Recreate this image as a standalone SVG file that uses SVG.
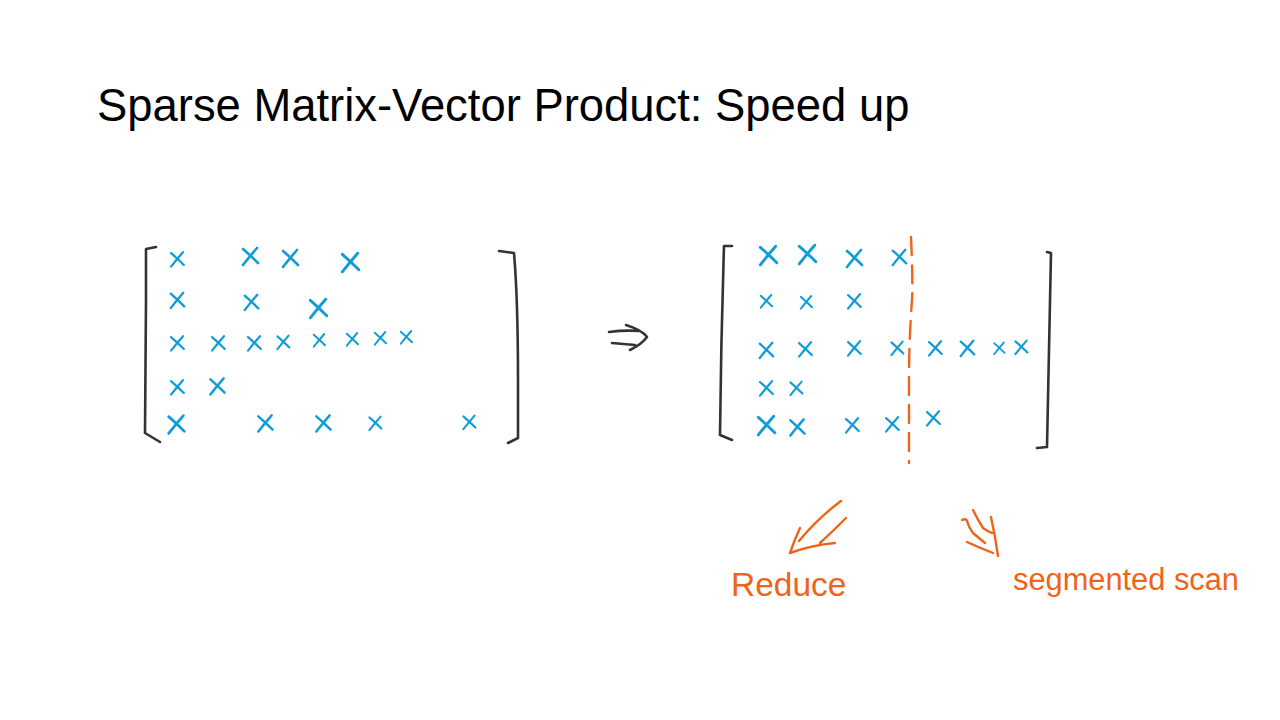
<svg xmlns="http://www.w3.org/2000/svg" xmlns:xlink="http://www.w3.org/1999/xlink" width="1280" height="720" viewBox="0 0 1280 720">
<style>
.title{font-family:"Liberation Sans",Arial,sans-serif;font-size:45.4px;fill:#000}
.br{fill:none;stroke:#333;stroke-width:2.6;stroke-linecap:round;stroke-linejoin:round}
.xm{fill:none;stroke:#109CD6;stroke-width:2.6;stroke-linecap:round}
.or{fill:none;stroke:#F06418;stroke-width:2.4;stroke-linecap:round;stroke-linejoin:round}
.hand{font-family:"Liberation Sans",Arial,sans-serif;fill:#F06418}
</style>
<defs>
<path id="xm" d="M-7,-7 Q0,-1 8,7 M7,-8 Q0,0 -7,9"/>
</defs>
<rect width="1280" height="720" fill="#fff"/>
<text class="title" x="97" y="121">Sparse Matrix-Vector Product: Speed up</text>

<g id="left-matrix">
<path class="br" d="M156,247 L146,249 L146,300 L145,433 L160,442"/>
<path class="br" d="M499,251 L514,253 Q518,300 518,380 L518,438 L508,443"/>
<g class="xm">
<use xlink:href="#xm" transform="translate(177,259) scale(0.85)"/>
<use xlink:href="#xm" transform="translate(250,256) scale(1)"/>
<use xlink:href="#xm" transform="translate(290,258) scale(1)"/>
<use xlink:href="#xm" transform="translate(350,262) scale(1.1)"/>
<use xlink:href="#xm" transform="translate(177,300) scale(0.9)"/>
<use xlink:href="#xm" transform="translate(251,302) scale(0.9)"/>
<use xlink:href="#xm" transform="translate(318,308) scale(1.1)"/>
<use xlink:href="#xm" transform="translate(177,343) scale(0.85)"/>
<use xlink:href="#xm" transform="translate(218,343) scale(0.85)"/>
<use xlink:href="#xm" transform="translate(254,343) scale(0.85)"/>
<use xlink:href="#xm" transform="translate(283,342) scale(0.8)"/>
<use xlink:href="#xm" transform="translate(319,340) scale(0.75)"/>
<use xlink:href="#xm" transform="translate(352,339) scale(0.75)"/>
<use xlink:href="#xm" transform="translate(380,338) scale(0.75)"/>
<use xlink:href="#xm" transform="translate(406,337) scale(0.75)"/>
<use xlink:href="#xm" transform="translate(177,387) scale(0.85)"/>
<use xlink:href="#xm" transform="translate(217,386) scale(0.95)"/>
<use xlink:href="#xm" transform="translate(176,424) scale(1.05)"/>
<use xlink:href="#xm" transform="translate(265,423) scale(0.95)"/>
<use xlink:href="#xm" transform="translate(323,423) scale(0.95)"/>
<use xlink:href="#xm" transform="translate(375,423) scale(0.8)"/>
<use xlink:href="#xm" transform="translate(469,422) scale(0.8)"/>
</g>
</g>

<g id="implies">
<path class="br" d="M609,332 Q624,330 640,331 M626,325 Q642,330 647,337 Q642,344 630,350 M612,343 Q624,344 635,345"/>
</g>

<g id="right-matrix">
<path class="br" d="M732,246 L724,246 Q721,340 720,435 L732,440"/>
<path class="br" d="M1047,252 L1051,253 Q1049,350 1047,447 L1037,448"/>
<path class="or" stroke-dasharray="18 10" d="M911,237 Q913,280 912,300 Q909,340 909,380 L909,463"/>
<g class="xm">
<use xlink:href="#xm" transform="translate(768,255) scale(1.1)"/>
<use xlink:href="#xm" transform="translate(807,254) scale(1.1)"/>
<use xlink:href="#xm" transform="translate(854,258) scale(1)"/>
<use xlink:href="#xm" transform="translate(899,257) scale(0.9)"/>
<use xlink:href="#xm" transform="translate(766,301) scale(0.75)"/>
<use xlink:href="#xm" transform="translate(806,302) scale(0.75)"/>
<use xlink:href="#xm" transform="translate(854,301) scale(0.85)"/>
<use xlink:href="#xm" transform="translate(766,350) scale(0.9)"/>
<use xlink:href="#xm" transform="translate(805,349) scale(0.85)"/>
<use xlink:href="#xm" transform="translate(854,348) scale(0.85)"/>
<use xlink:href="#xm" transform="translate(897,348) scale(0.8)"/>
<use xlink:href="#xm" transform="translate(935,348) scale(0.85)"/>
<use xlink:href="#xm" transform="translate(967,348) scale(0.9)"/>
<use xlink:href="#xm" transform="translate(999,348) scale(0.7)"/>
<use xlink:href="#xm" transform="translate(1021,347) scale(0.8)"/>
<use xlink:href="#xm" transform="translate(766,388) scale(0.85)"/>
<use xlink:href="#xm" transform="translate(796,388) scale(0.8)"/>
<use xlink:href="#xm" transform="translate(766,425) scale(1.1)"/>
<use xlink:href="#xm" transform="translate(797,427) scale(0.95)"/>
<use xlink:href="#xm" transform="translate(852,425) scale(0.85)"/>
<use xlink:href="#xm" transform="translate(892,424) scale(0.85)"/>
<use xlink:href="#xm" transform="translate(933,418) scale(0.85)"/>
</g>
</g>

<g id="reduce">
<path class="or" d="M837,504 L841,501 Q818,518 799,541 M846,518 Q832,532 820,543 M800,528 Q794,541 790,553 Q812,545 835,543"/>
<text class="hand" x="731" y="596" font-size="33.5">Reduce</text>
</g>

<g id="segmented-scan">
<path class="or" d="M973,510 Q978,520 983,528 Q987,531 992,533 M962,520 Q966,518 967,521 Q969,528 973,533 Q979,538 985,543 M991,517 Q995,535 998,556 M967,542 Q980,548 993,553"/>
<text class="hand" x="1013" y="590" font-size="30.8">segmented scan</text>
</g>
</svg>
